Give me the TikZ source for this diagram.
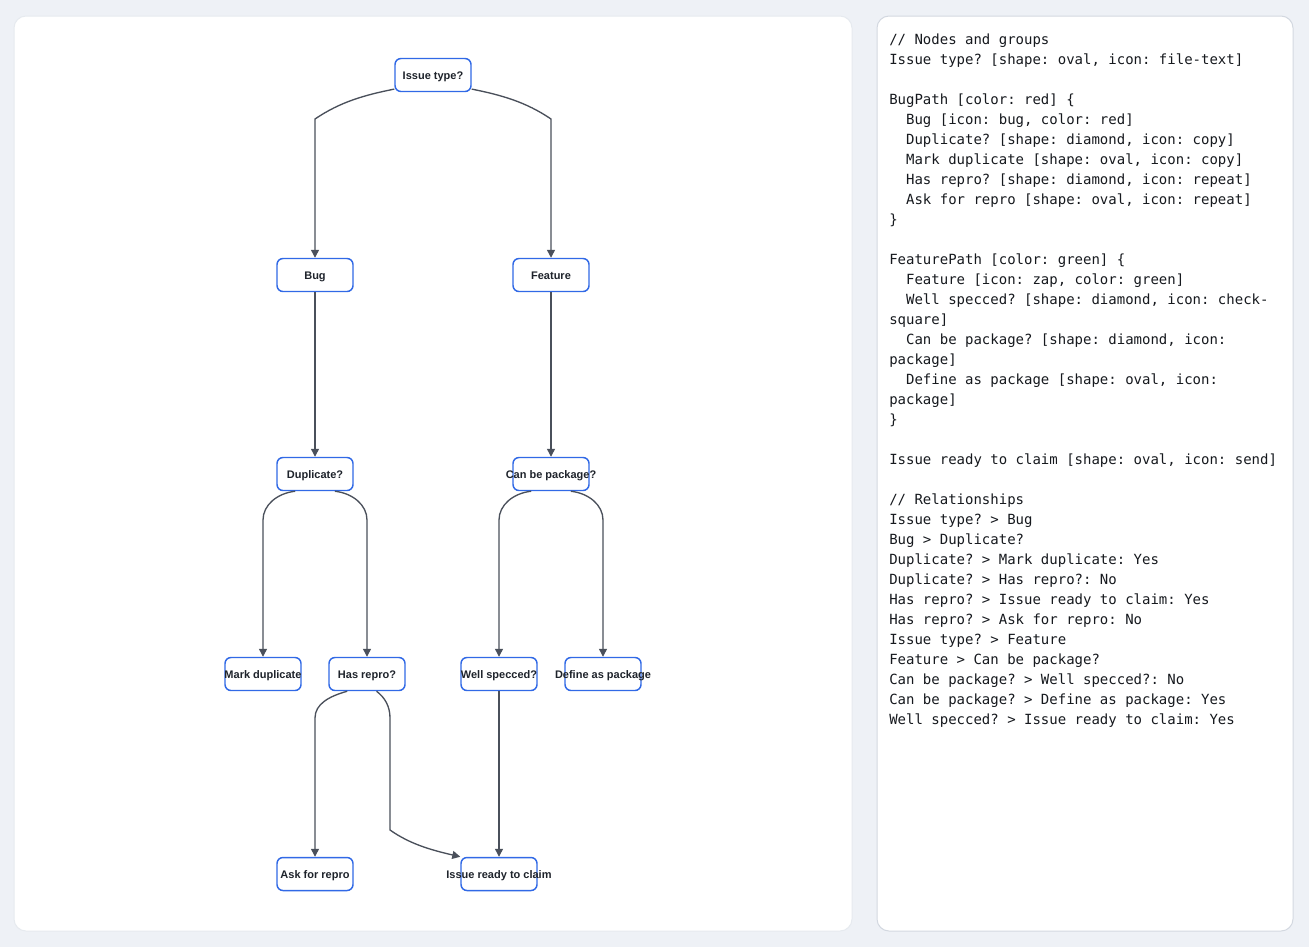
\documentclass[tikz,border=0pt]{standalone}
\usepackage{fontspec}
\setmonofont{DejaVu Sans Mono}
\newfontfamily\labelfont{Liberation Sans}
\usetikzlibrary{arrows.meta}
\definecolor{page}{HTML}{EEF1F6}
\definecolor{panelline}{HTML}{D3D8E0}
\definecolor{boxblue}{HTML}{3169E6}
\definecolor{ink}{HTML}{1E232B}
\definecolor{wire}{HTML}{4A505B}
\definecolor{code}{HTML}{16191E}
\newcommand{\nbox}[1]{\makebox[0pt]{#1}}
\newcommand{\ind}{\hphantom{xx}}

\begin{document}
\begin{tikzpicture}[
  x=0.75pt,
  y=-0.75pt,
  stepbox/.style={draw=boxblue, line width=1.1pt, rounded corners=4.5pt,
    fill=white, minimum width=57pt, minimum height=24.75pt, inner sep=0pt,
    text height=7.3pt, text depth=0pt,
    text=ink, font=\labelfont\bfseries\fontsize{8.25}{10}\selectfont},
  link/.style={draw=wire, line width=1pt, line join=round,
    -{Triangle[length=6pt,width=6pt]}},
  panel/.style={fill=white, rounded corners=9pt, line width=0.75pt},
  codetext/.style={inner sep=0pt, align=left, text=code,
    font=\ttfamily\fontsize{10.5}{15}\selectfont}
]
  % background and panels
  \fill[page] (0,0) rectangle (1309,947);
  \useasboundingbox (0,0) rectangle (1309,947);
  \draw[panel, draw=page!70!panelline] (14,16) rectangle (852,931);
  \draw[panel, draw=panelline] (877,16) rectangle (1293,931);

  % nodes
  \node[stepbox] (issue) at (433,75) {\nbox{Issue type?}};
  \node[stepbox] (bug) at (315,275) {\nbox{Bug}};
  \node[stepbox] (feature) at (551,275) {\nbox{Feature}};
  \node[stepbox] (dup) at (315,474) {\nbox{Duplicate?}};
  \node[stepbox] (pkg) at (551,474) {\nbox{Can be package?}};
  \node[stepbox] (markdup) at (263,674) {\nbox{Mark duplicate}};
  \node[stepbox] (repro) at (367,674) {\nbox{Has repro?}};
  \node[stepbox] (specced) at (499,674) {\nbox{Well specced?}};
  \node[stepbox] (defpkg) at (603,674) {\nbox{Define as package}};
  \node[stepbox] (ask) at (315,874) {\nbox{Ask for repro}};
  \node[stepbox] (ready) at (499,874) {\nbox{Issue ready to claim}};

  % bends
  \coordinate (kbug) at (315,119);
  \coordinate (kfeat) at (551,119);
  \coordinate (kmark) at (263,520);
  \coordinate (krepro) at (367,520);
  \coordinate (kspec) at (499,520);
  \coordinate (kdef) at (603,520);
  \coordinate (kask) at (315,718);
  \coordinate (kready) at (390,718);
  \coordinate (klow) at (390,830);

  % connectors
  \draw[link] (issue.200) .. controls +(-30,6) and +(25,-17) .. (kbug) -- (bug.north);
  \draw[link] (issue.-20) .. controls +(30,6) and +(-25,-17) .. (kfeat) -- (feature.north);
  \draw[link] (bug.south) -- (dup.north);
  \draw[link] (feature.south) -- (pkg.north);
  \draw[link] (dup.221) .. controls +(-18,2) and +(0,-15) .. (kmark) -- (markdup.north);
  \draw[link] (dup.-41) .. controls +(18,2) and +(0,-15) .. (krepro) -- (repro.north);
  \draw[link] (pkg.221) .. controls +(-18,2) and +(0,-15) .. (kspec) -- (specced.north);
  \draw[link] (pkg.-41) .. controls +(18,2) and +(0,-15) .. (kdef) -- (defpkg.north);
  \draw[link] (repro.221) .. controls +(-18,5) and +(0,-14) .. (kask) -- (ask.north);
  \draw[link] (repro.-61) .. controls +(8,6) and +(0,-12) .. (kready) -- (klow)
    .. controls +(20,14) and +(-30,-7) .. (ready.north west);
  \draw[link] (specced.south) -- (ready.north);

  % source text
  \node[codetext, anchor=north west] (source) at (889,33.5) {%
// Nodes and groups\\
Issue type? [shape: oval, icon: file-text]\\
\mbox{}\\
BugPath [color: red] \{\\
\ind Bug [icon: bug, color: red]\\
\ind Duplicate? [shape: diamond, icon: copy]\\
\ind Mark duplicate [shape: oval, icon: copy]\\
\ind Has repro? [shape: diamond, icon: repeat]\\
\ind Ask for repro [shape: oval, icon: repeat]\\
\}\\
\mbox{}\\
FeaturePath [color: green] \{\\
\ind Feature [icon: zap, color: green]\\
\ind Well specced? [shape: diamond, icon: check-\\
square]\\
\ind Can be package? [shape: diamond, icon:\\
package]\\
\ind Define as package [shape: oval, icon:\\
package]\\
\}\\
\mbox{}\\
Issue ready to claim [shape: oval, icon: send]\\
\mbox{}\\
// Relationships\\
Issue type? > Bug\\
Bug > Duplicate?\\
Duplicate? > Mark duplicate: Yes\\
Duplicate? > Has repro?: No\\
Has repro? > Issue ready to claim: Yes\\
Has repro? > Ask for repro: No\\
Issue type? > Feature\\
Feature > Can be package?\\
Can be package? > Well specced?: No\\
Can be package? > Define as package: Yes\\
Well specced? > Issue ready to claim: Yes};
\end{tikzpicture}
\end{document}
